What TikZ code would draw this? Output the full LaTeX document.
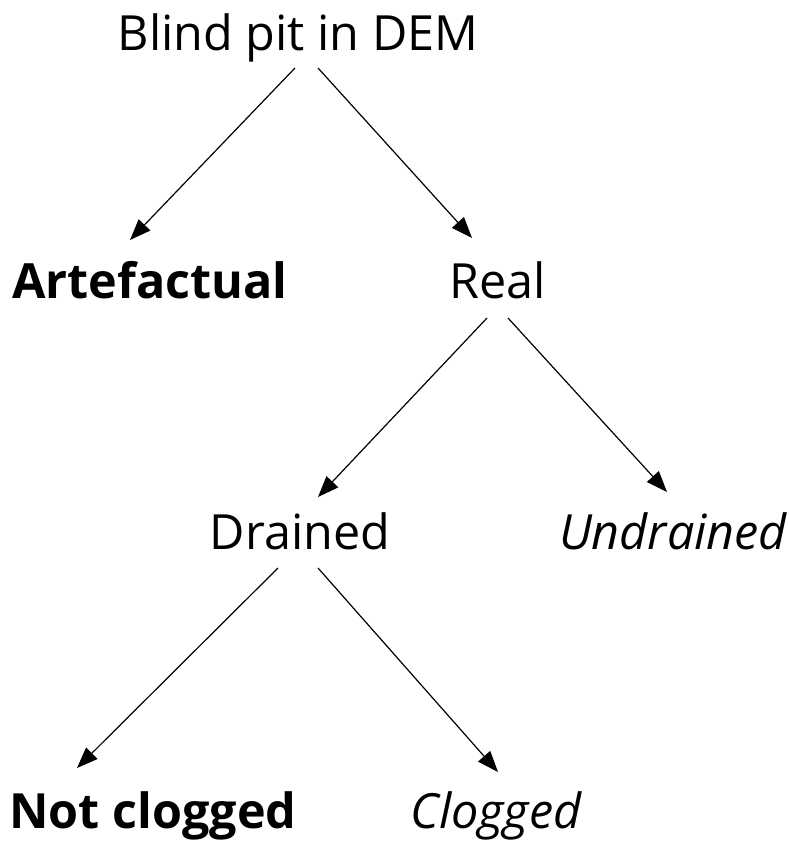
\documentclass[tikz,border=0pt]{standalone}
\usepackage{fontspec}
\setmainfont{Open Sans}
\usetikzlibrary{arrows.meta,calc}
\begin{document}
\begin{tikzpicture}[x=1pt,y=-1pt,
  lbl/.style={anchor=base,inner sep=0pt,font=\fontsize{48.5}{58}\selectfont},
  arr/.style={line width=1.2pt,-{Triangle[length=21pt,width=16pt]}}]
\useasboundingbox (0,0) rectangle (789,841);
\node[lbl] (top) at (298,50) {Blind pit in DEM};
\node[lbl,font=\fontsize{48.5}{58}\selectfont\bfseries] (art) at (150,298) {Artefactual};
\node[lbl] (real) at (498,298) {Real};
\node[lbl] (drained) at (300,549) {Drained};
\node[lbl,font=\fontsize{48.5}{58}\selectfont\itshape] (undrained) at (673,549) {Undrained};
\node[lbl,font=\fontsize{48.5}{58}\selectfont\bfseries] (notclog) at (153,828) {Not clogged};
\node[lbl,font=\fontsize{48.5}{58}\selectfont\itshape] (clog) at (496,828) {Clogged};
\draw[arr] ($(top.base)+(-3,18)$) -- ($(art.base)+(-20,-58)$);
\draw[arr] ($(top.base)+(20,18)$) -- ($(real.base)+(-26,-60)$);
\draw[arr] ($(real.base)+(-11,20)$) -- ($(drained.base)+(18,-52)$);
\draw[arr] ($(real.base)+(10,20)$) -- ($(undrained.base)+(-6,-57)$);
\draw[arr] ($(drained.base)+(-22,19)$) -- ($(notclog.base)+(-76,-60)$);
\draw[arr] ($(drained.base)+(18,19)$) -- ($(clog.base)+(2,-56)$);
\end{tikzpicture}
\end{document}
